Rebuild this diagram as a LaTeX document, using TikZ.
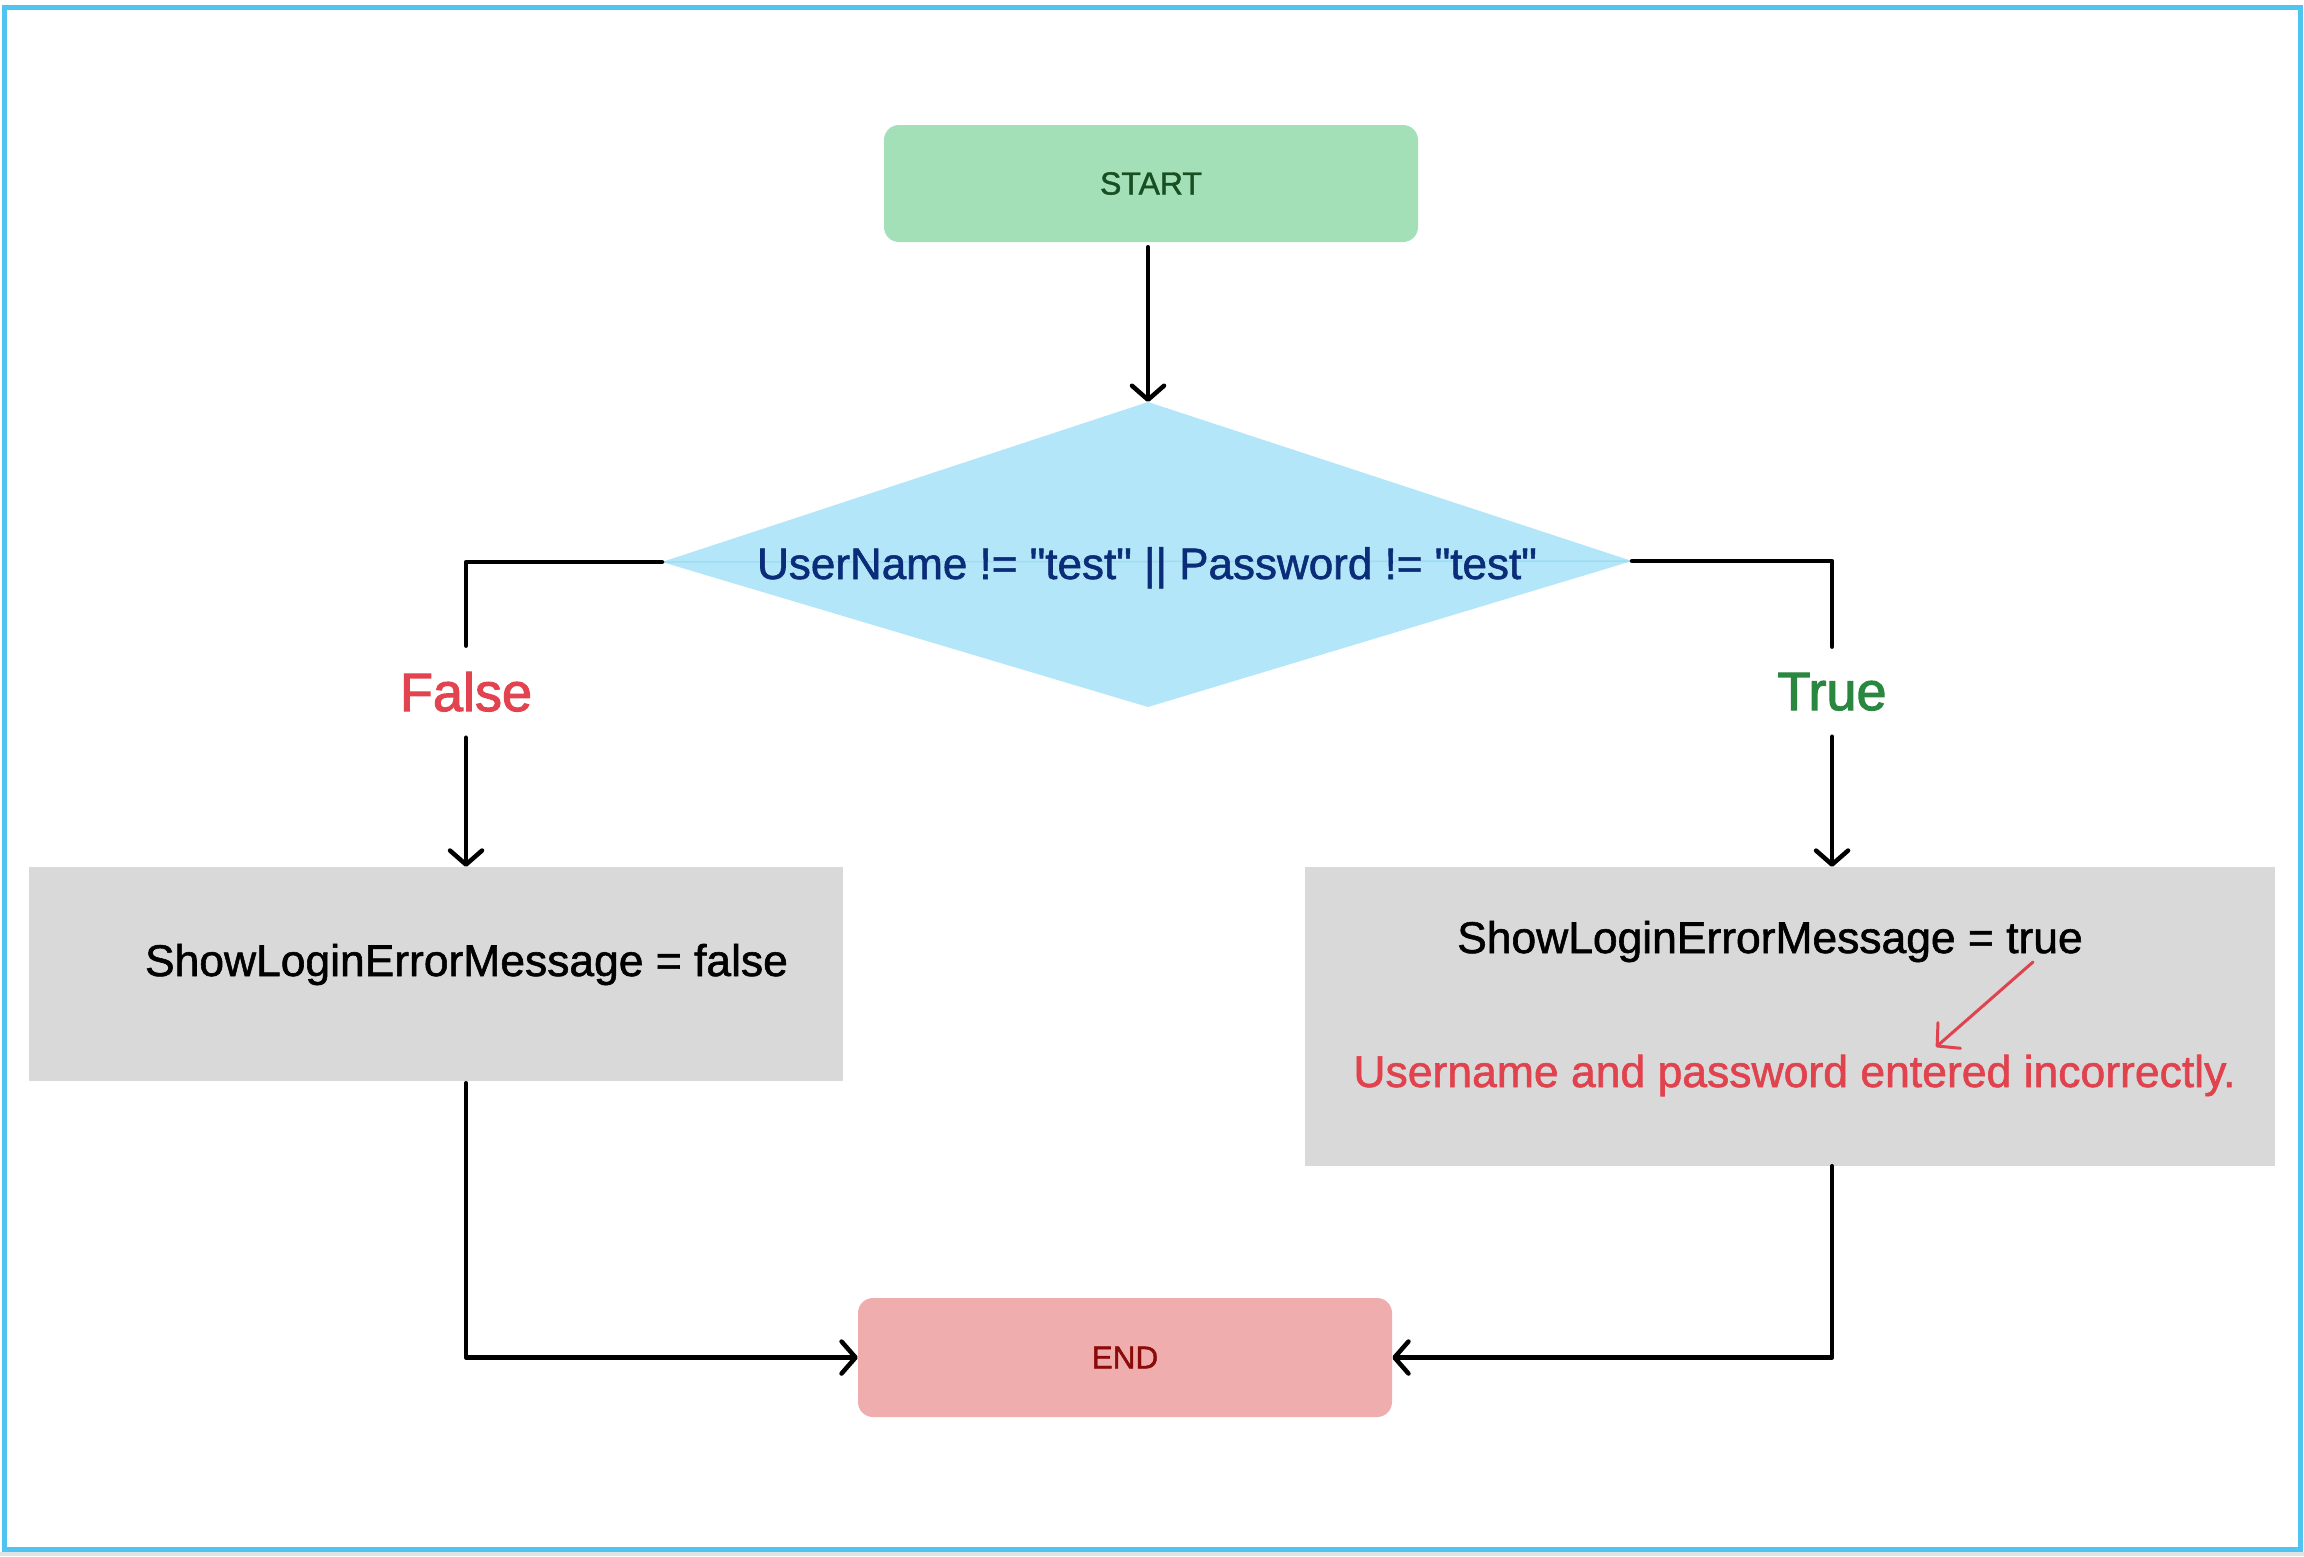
\documentclass[tikz,border=0pt]{standalone}
\usepackage{fontspec}
\setmainfont{Liberation Sans}[Ligatures=TeXOff, FakeBold=1.3]
\newfontfamily\labelfont{Liberation Sans}[Ligatures=TeXOff, FakeBold=2]
\usetikzlibrary{arrows.meta}
\definecolor{framec}{HTML}{50C4F0}
\definecolor{stripc}{HTML}{E2E2E2}
\definecolor{startfill}{HTML}{A3DFB7}
\definecolor{starttext}{HTML}{174F22}
\definecolor{diafill}{HTML}{B3E6F8}
\definecolor{dialine}{HTML}{9EDCF4}
\definecolor{diatext}{HTML}{0B2C78}
\definecolor{falsec}{HTML}{E2434E}
\definecolor{truec}{HTML}{2A8740}
\definecolor{boxfill}{HTML}{D9D9D9}
\definecolor{endfill}{HTML}{F0ADAE}
\definecolor{endtext}{HTML}{8B0A0A}
\definecolor{errc}{HTML}{E0424E}
\begin{document}
\begin{tikzpicture}[x=1pt,y=-1pt,
  conn/.style={line width=4.5pt, line cap=round, line join=round, black},
  arr/.style={conn, -{Straight Barb[length=14pt,width=32pt,line cap=round,line join=round]}},
  termbox/.style={rectangle, rounded corners=15pt, inner sep=0pt, minimum width=534pt},
  procbox/.style={rectangle, inner sep=0pt, fill=boxfill},
  branchlabel/.style={inner sep=26pt, anchor=base, font=\labelfont\fontsize{54}{66}\selectfont},
  bodytext/.style={inner sep=0pt, anchor=base, font=\fontsize{44.4}{54}\selectfont}
]
\useasboundingbox (0,0) rectangle (2304,1556);
\fill[stripc] (0,1552) rectangle (2304,1556);
\draw[framec, line width=5pt] (4.5,7.5) rectangle (2300.5,1549.5);

% start
\node[termbox, fill=startfill, minimum height=117pt, text=starttext,
      font=\fontsize{32}{38}\selectfont] (start) at (1151,183.5) {START};

% decision
\coordinate (dtop) at (1148,402);
\coordinate (dleft) at (662,562);
\coordinate (dright) at (1632,561);
\coordinate (dbot) at (1148,707);
\fill[diafill] (dtop) -- (dright) -- (dbot) -- (dleft) -- cycle;
\draw[dialine, line width=1.5pt] (dleft) -- (dright);
\node[inner sep=0pt, anchor=base, text=diatext, font=\fontsize{44}{53}\selectfont]
  (cond) at (1147,579) {UserName != "test" || Password != "test"};

% branch labels
\node[branchlabel, text=falsec] (flabel) at (466,711) {False};
\node[branchlabel, text=truec] (tlabel) at (1832,710) {True};

% process boxes
\node[procbox, minimum width=814pt, minimum height=214pt] (lbox) at (436,974) {};
\node[procbox, minimum width=970pt, minimum height=299pt] (rbox) at (1790,1016.5) {};
\node[bodytext] (ltext) at (466.5,976) {ShowLoginErrorMessage = false};
\node[bodytext] (rtext) at (1770,953) {ShowLoginErrorMessage = true};
\node[bodytext, text=errc, font=\fontsize{44.5}{54}\selectfont] (etext) at (1794.5,1087)
  {Username and password entered incorrectly.};

% end
\node[termbox, fill=endfill, minimum height=119pt, text=endtext,
      font=\fontsize{31.5}{38}\selectfont] (end) at (1125,1357.5) {END};

% connectors
\draw[arr] (start.south -| dtop) ++(0,5) -- (dtop);
\draw[conn] (dleft) -| (flabel.north);
\draw[arr] (flabel.south) -- (flabel.south |- lbox.north);
\draw[conn] (dright) -| (tlabel.north);
\draw[arr] (tlabel.south) -- (tlabel.south |- rbox.north);
\draw[arr] (lbox.south -| flabel.south) ++(0,2) |- (end.west);
\draw[arr] (rbox.south -| tlabel.south) |- (end.east);

% annotation arrow
\coordinate (ra1) at (2033,962);
\coordinate (ra2) at (1936,1047);
\draw[errc, line width=3pt, line cap=round,
      -{Straight Barb[length=16pt,width=34pt,line cap=round,line join=round]}] (ra1) -- (ra2);
\end{tikzpicture}
\end{document}
